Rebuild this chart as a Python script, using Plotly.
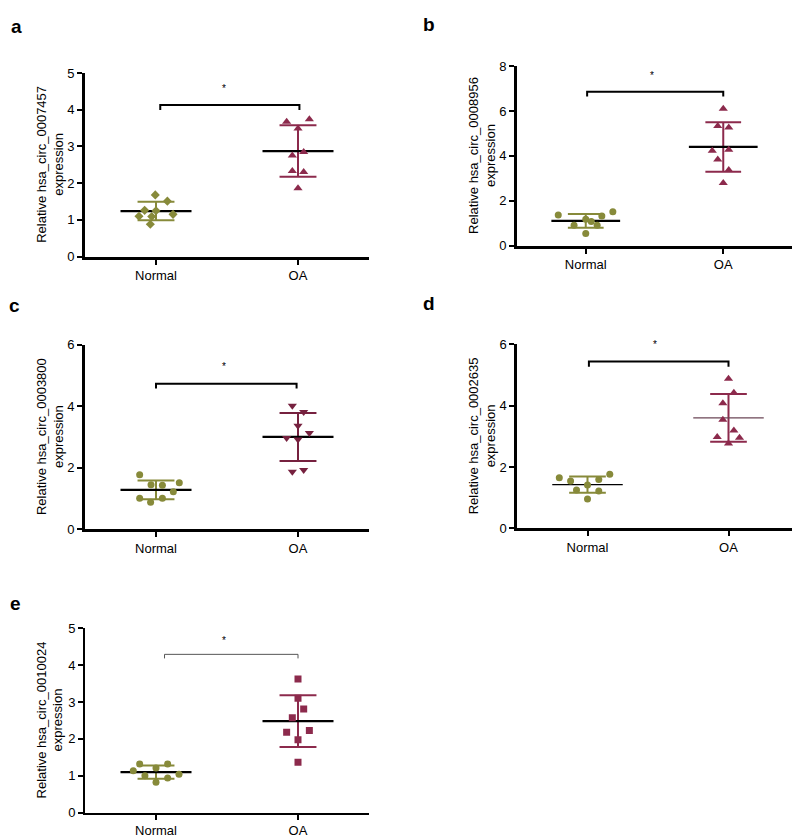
import numpy as np
import plotly.graph_objects as go

W, H = 800, 839
# the page body has an 8px default margin; positions below are page pixels
OX, OY = 8, 8

# ---------------- data ----------------
categories = ["Normal", "OA"]

a_normal = [1.68, 1.51, 1.26, 1.25, 1.10, 1.09, 1.15, 0.88]
a_oa = [3.67, 3.74, 3.49, 2.75, 2.85, 2.33, 2.30, 1.86]

b_normal = [1.37, 0.92, 1.18, 0.55, 0.92, 1.33, 1.52, 1.08]
b_oa = [6.10, 5.33, 5.27, 4.23, 4.28, 3.84, 3.37, 2.79]

c_normal = [1.77, 1.45, 1.43, 1.51, 1.22, 1.01, 0.88, 1.01]
c_oa = [4.02, 3.81, 3.37, 3.13, 2.97, 2.92, 1.87, 1.93]

d_normal = [1.65, 1.54, 1.59, 1.76, 1.41, 1.25, 1.22, 0.96]
d_oa = [4.88, 4.42, 4.08, 3.54, 3.19, 2.98, 2.95, 2.77]

e_normal = [1.32, 1.32, 1.14, 1.21, 1.04, 1.00, 0.94, 0.83]
e_oa = [3.62, 3.10, 2.81, 2.57, 2.18, 2.23, 1.98, 1.37]

y_titles = ["hsa_circ_0007457", "hsa_circ_0008956", "hsa_circ_0003800",
            "hsa_circ_0002635", "hsa_circ_0010024"]
panel_letters = ["a", "b", "c", "d", "e"]
y_max = [5, 8, 6, 6, 5]
y_dtick = [1, 2, 2, 2, 1]

# ---------------- layout of the dot-plot (horizontal spread of points) ----------------
spread = {
    "a": ([-0.005, 0.08, -0.08, 0.0, -0.12, -0.03, 0.12, -0.04],
          [-0.08, 0.08, 0.0, -0.04, 0.04, -0.04, 0.04, 0.0]),
    "b": ([-0.20, -0.085, 0.0, 0.0, 0.083, 0.117, 0.197, 0.04],
          [0.0, -0.04, 0.04, -0.08, 0.04, -0.04, 0.04, 0.0]),
    "c": ([-0.115, -0.035, 0.045, 0.164, 0.122, -0.115, -0.038, 0.045],
          [-0.04, 0.04, 0.0, 0.08, -0.08, 0.0, -0.04, 0.04]),
    "d": ([-0.20, -0.12, 0.08, 0.158, 0.0, -0.078, 0.08, 0.0],
          [0.0, 0.038, -0.04, -0.04, 0.038, -0.08, 0.078, 0.0]),
    "e": ([-0.115, 0.082, -0.16, 0.0, 0.162, -0.078, 0.082, 0.0],
          [0.0, 0.0, 0.04, -0.04, -0.08, 0.08, 0.0, 0.0]),
}

# panel boxes in page pixels: x0, x1, y_top, y_bottom
boxes = {
    "a": (85, 369, 67.0, 254.0),
    "b": (517, 792, 60.0, 243.0),
    "c": (85, 369, 343.7, 531.7),
    "d": (517, 799, 343.3, 530.7),
    "e": (85, 369, 632.3, 820.3),
}
letter_pos = {"a": (16, 20), "b": (429, 18), "c": (14, 304), "d": (429, 302), "e": (15, 607)}

OLIVE = "#878A3A"
MAROON = "#8C2A4C"
MAROON_DARK = "#76213F"

style = {
    "a": dict(nsym="diamond", osym="triangle-up", nsize=7, osize=8, ocol=MAROON,
              axw=3, meanw=2.2, meancol_n="black", meancol_o="black", sdw=2,
              brw=2, brcol="black", bracket=(0.03, 1.01, 4.13, 3.99), star=4.64),
    "b": dict(nsym="circle", osym="triangle-up", nsize=7, osize=8, ocol=MAROON,
              axw=3, meanw=2.2, meancol_n="black", meancol_o="black", sdw=2,
              brw=2, brcol="black", bracket=(0.01, 1.0, 6.86, 6.64), star=7.68),
    "c": dict(nsym="circle", osym="triangle-down", nsize=7, osize=8, ocol=MAROON_DARK,
              axw=3, meanw=2.2, meancol_n="black", meancol_o="black", sdw=2,
              brw=2, brcol="black", bracket=(0.0, 0.99, 4.73, 4.58), star=5.36),
    "d": dict(nsym="circle", osym="triangle-up", nsize=7, osize=8, ocol=MAROON,
              axw=2.5, meanw=1.2, meancol_n="black", meancol_o="#6B4656", sdw=2,
              brw=2, brcol="black", bracket=(0.01, 1.0, 5.44, 5.27), star=6.07),
    "e": dict(nsym="circle", osym="square", nsize=7, osize=7, ocol=MAROON,
              axw=1.6, meanw=2.2, meancol_n="black", meancol_o="black", sdw=2,
              brw=1, brcol="#555555", bracket=(0.06, 1.0, 4.29, 4.18), star=4.71),
}

groups = {
    "a": (a_normal, a_oa), "b": (b_normal, b_oa), "c": (c_normal, c_oa),
    "d": (d_normal, d_oa), "e": (e_normal, e_oa),
}

FONT = "Liberation Sans, Arial, Helvetica, sans-serif"
fig = go.Figure()
annotations = []


def px_x(p):
    return (p - OX) / W


def px_y(p):
    return 1 - (p - OY) / H


for i, key in enumerate(panel_letters):
    st = style[key]
    x0, x1, yt, yb = boxes[key]
    xa = "x" if i == 0 else f"x{i+1}"
    ya = "y" if i == 0 else f"y{i+1}"
    xname = "xaxis" if i == 0 else f"xaxis{i+1}"
    yname = "yaxis" if i == 0 else f"yaxis{i+1}"

    fig.layout[xname] = dict(
        domain=[px_x(x0), px_x(x1)], anchor=ya, range=[-0.5, 1.5],
        tickvals=[0, 1], ticktext=categories, ticks="outside", ticklen=5,
        tickwidth=2, tickcolor="black", showline=True, linecolor="black",
        linewidth=st["axw"], showgrid=False, zeroline=False,
        tickfont=dict(family=FONT, size=13, color="black"), fixedrange=True,
    )
    fig.layout[yname] = dict(
        domain=[px_y(yb), px_y(yt)], anchor=xa, range=[0, y_max[i]],
        dtick=y_dtick[i], tick0=0, ticks="outside", ticklen=5, tickwidth=2,
        tickcolor="black", showline=True, linecolor="black", linewidth=st["axw"],
        showgrid=False, zeroline=False,
        tickfont=dict(family=FONT, size=13, color="black"), fixedrange=True,
    )

    normal, oa = groups[key]
    sp_n, sp_o = spread[key]
    for gi, (vals, sp, col, sym, size, mcol) in enumerate([
        (normal, sp_n, OLIVE, st["nsym"], st["nsize"], st["meancol_n"]),
        (oa, sp_o, st["ocol"], st["osym"], st["osize"], st["meancol_o"]),
    ]):
        v = np.asarray(vals, dtype=float)
        m = v.mean()
        s = v.std(ddof=1)
        cx = float(gi)
        # SD whisker + caps
        fig.add_trace(go.Scatter(
            x=[cx, cx, None, cx - 0.13, cx + 0.13, None, cx - 0.13, cx + 0.13],
            y=[m - s, m + s, None, m + s, m + s, None, m - s, m - s],
            mode="lines", line=dict(color=col, width=st["sdw"]),
            xaxis=xa, yaxis=ya, showlegend=False, hoverinfo="skip"))
        # mean line
        fig.add_trace(go.Scatter(
            x=[cx - 0.25, cx + 0.25], y=[m, m], mode="lines",
            line=dict(color=mcol, width=st["meanw"]),
            xaxis=xa, yaxis=ya, showlegend=False, hoverinfo="skip"))
        # points
        fig.add_trace(go.Scatter(
            x=[cx + d for d in sp], y=v, mode="markers",
            marker=dict(symbol=sym, size=size, color=col, line=dict(width=0)),
            xaxis=xa, yaxis=ya, showlegend=False, name=categories[gi]))

    # significance bracket
    bx0, bx1, by, byl = st["bracket"]
    fig.add_trace(go.Scatter(
        x=[bx0, bx0, bx1, bx1], y=[byl, by, by, byl], mode="lines",
        line=dict(color=st["brcol"], width=st["brw"]),
        xaxis=xa, yaxis=ya, showlegend=False, hoverinfo="skip",
        cliponaxis=False))
    # star (positioned relative to the axis domain so it can sit above the top tick)
    annotations.append(dict(
        x=0.48, y=st["star"] / y_max[i], xref=xa, yref=f"{ya} domain",
        text="*", showarrow=False,
        font=dict(family=FONT, size=10, color="black"),
        xanchor="center", yanchor="middle", yshift=-2))

    # y-axis title
    annotations.append(dict(
        x=px_x(x0 - 35), y=px_y((yt + yb) / 2), xref="paper", yref="paper",
        text=f"Relative {y_titles[i]}<br>expression", textangle=-90,
        showarrow=False, xanchor="center", yanchor="middle",
        font=dict(family=FONT, size=13, color="black")))

    # panel letter
    lx, ly = letter_pos[key]
    annotations.append(dict(
        x=px_x(lx), y=px_y(ly), xref="paper", yref="paper", text=f"<b>{key}</b>",
        showarrow=False, xanchor="center", yanchor="middle",
        font=dict(family=FONT, size=19, color="black")))

fig.update_layout(
    width=W, height=H, margin=dict(l=0, r=0, t=0, b=0),
    paper_bgcolor="white", plot_bgcolor="white",
    annotations=annotations, showlegend=False,
    font=dict(family=FONT),
)

fig.write_html("out.html")
